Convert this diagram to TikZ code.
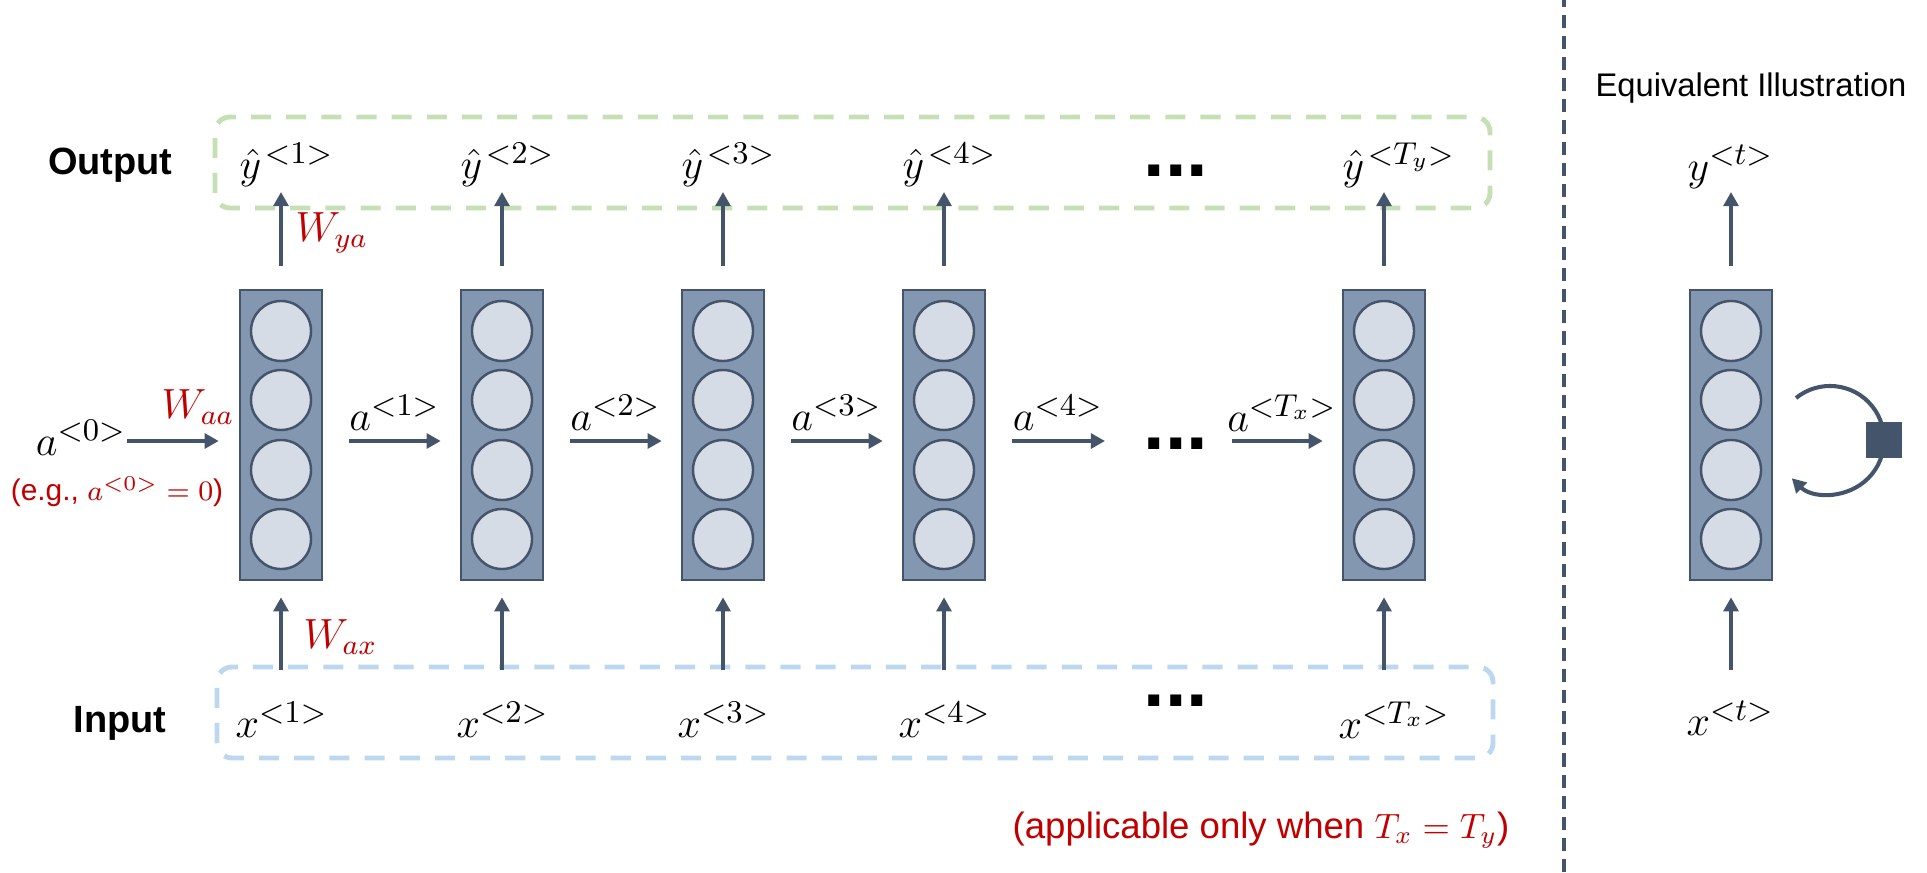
\documentclass[tikz,border=0pt]{standalone}
\usepackage[no-math]{fontspec}
\usepackage{amsmath}
\usetikzlibrary{calc,arrows.meta}
\newfontfamily\arial{Liberation Sans}
\definecolor{slate}{HTML}{44546A}
\definecolor{cellblue}{HTML}{8497B0}
\definecolor{unitgray}{HTML}{D6DCE5}
\definecolor{outgreen}{HTML}{C5E0B4}
\definecolor{inblue}{HTML}{BDD7EE}
\definecolor{wred}{HTML}{C00000}

\begin{document}
\begin{tikzpicture}
      [   x=0.01cm,y=0.01cm,
          cell/.style={draw=slate,fill=cellblue,line width=0.7pt,minimum width=0.82cm,minimum height=2.9cm,inner sep=0},
          unit/.style={draw=slate,fill=unitgray,line width=0.7pt,circle,minimum size=0.6cm,inner sep=0},
          arr/.style={slate,line width=1.15pt,-{Triangle[width=4.2pt,length=4pt]}},
          vec/.style={font=\fontsize{12.5}{15}\selectfont,inner sep=0},
          wlab/.style={text=wred,font=\fontsize{11.5}{14}\selectfont,inner sep=0},
          group/.style={draw=#1,line width=1.4pt,dash pattern=on 5.7pt off 4.3pt,rounded corners=0.15cm},
          dots/.style={font=\arial\bfseries\fontsize{22}{22}\selectfont,inner sep=0},
      ]
          \useasboundingbox (0,0) rectangle (1927,872);
          % cells with their units
          \foreach \i/\cx in {1/281,2/502,3/723,4/944,5/1384,t/1731}
          {   \node[cell] (cell-\i) at (\cx,437) {};
              \foreach \j/\dy in {1/104,2/35,3/-35,4/-104}
                  \node[unit] (u-\i-\j) at ($(cell-\i.center)+(0,\dy)$) {};
          }
          \draw[group=outgreen] (215,664) rectangle (1490,755);
          \draw[group=inblue] (217,114) rectangle (1493,205);
          \coordinate (hrow) at (0,431);
          \coordinate (ytip) at (0,680);
          \coordinate (xrow) at (0,202);

          \node[anchor=east,font=\arial\bfseries\fontsize{10.8}{13}\selectfont] (outlab) at (185,707) {Output};
          \node[anchor=east,font=\arial\bfseries\fontsize{10.8}{13}\selectfont] (inlab) at (179,149) {Input};

          \foreach \i/\s in {1/1,2/2,3/3,4/4,5/T_y}
          {   \node[vec,anchor=west] (yhat-\i) at ($(cell-\i.center)+(-42,270)$) {$\hat{y}^{\mkern2mu<\s>}$};
              \draw[arr,shorten <=0.23cm] (cell-\i.north) -- (cell-\i.north |- ytip);
          }
          \foreach \i/\s in {1/1,2/2,3/3,4/4,5/T_x}
          {   \node[vec,anchor=west] (x-\i) at ($(cell-\i.center)+(-46,-285)$) {$x^{<\s>}$};
              \draw[arr,shorten >=0.16cm] (cell-\i.south |- xrow) -- (cell-\i.south);
          }

          % recurrent connections
          \node[vec,anchor=east] (a-0) at (127,434) {$a^{<0>}$};
          \draw[arr,shorten >=0.2cm] (a-0.east |- hrow) -- (cell-1.west |- hrow);
          \foreach \i in {1,2,3}
          {   \pgfmathtruncatemacro{\j}{\i+1}
              \draw[arr,shorten <=0.26cm,shorten >=0.19cm] (cell-\i.east |- hrow) -- (cell-\j.west |- hrow);
              \node[vec] (a-\i) at ($(cell-\i.east)!0.5!(cell-\j.west)+(3,22)$) {$a^{<\i>}$};
          }
          \coordinate (a4end) at (1105,431);
          \draw[arr,shorten <=0.26cm] (cell-4.east |- hrow) -- (a4end);
          \node[vec] (a-4) at (1058,459) {$a^{<4>}$};
          \coordinate (aTstart) at (1232,431);
          \draw[arr,shorten >=0.19cm] (aTstart) -- (cell-5.west |- hrow);
          \node[vec] (a-5) at (1282,459) {$a^{<T_x>}$};

          \node[dots] (dots-y) at (1176,701) {...};
          \node[dots] (dots-a) at (1176,428) {...};
          \node[dots] (dots-x) at (1176,171) {...};

          \node[wlab] (waa) at (198,465) {$W_{aa}$};
          \node[wlab,anchor=west] (wya) at (295,639) {$W_{ya}$};
          \node[wlab,anchor=west] (wax) at (303,235) {$W_{ax}$};
          \node[text=wred,font=\arial\fontsize{8.5}{10}\selectfont,inner sep=0] (eg) at (117,380) {(e.g., $a^{<0>} = 0$)};
          \node[text=wred,font=\arial\fontsize{10.4}{12}\selectfont,inner sep=0,anchor=west] (note) at (1012,42) {(applicable only when $T_x = T_y$)};

          % equivalent illustration
          \draw[slate,line width=0.9pt,dash pattern=on 3.7pt off 2.3pt] (1564,0) -- (1564,872);
          \node[font=\arial\fontsize{9.3}{11}\selectfont,inner sep=0] (eqlab) at (1751,784) {Equivalent Illustration};
          \node[vec,anchor=west] (y-t) at ($(cell-t.center)+(-44,268)$) {$y^{<t>}$};
          \draw[arr,shorten <=0.23cm] (cell-t.north) -- (cell-t.north |- ytip);
          \node[vec,anchor=west] (x-t) at ($(cell-t.center)+(-45,-283)$) {$x^{<t>}$};
          \draw[arr,shorten >=0.16cm] (cell-t.south |- xrow) -- (cell-t.south);
          \coordinate (loop) at (1830,432);
          \draw[arr] ($(loop)+(129:0.54cm)$) arc[start angle=129,end angle=-135,radius=0.54cm];
          \node[fill=slate,minimum size=0.36cm,inner sep=0] (delay) at ($(loop)+(54,0)$) {};
    \end{tikzpicture}
\end{document}
